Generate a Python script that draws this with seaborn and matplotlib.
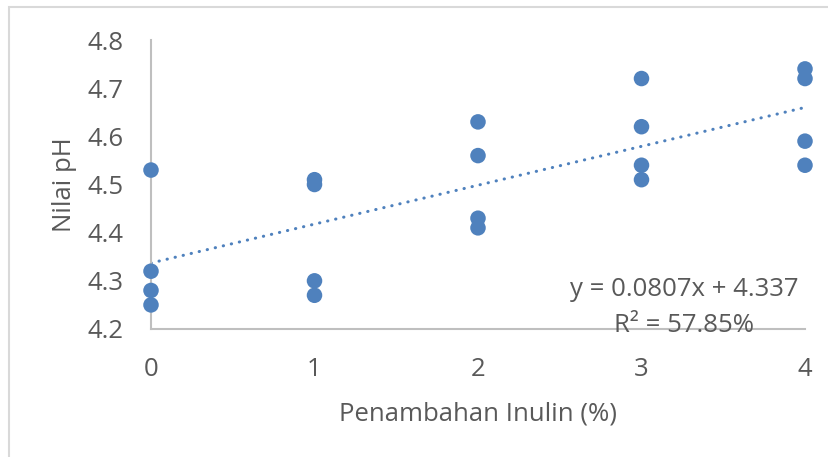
import numpy as np
import pandas as pd
import seaborn as sns
import matplotlib.pyplot as plt
from matplotlib.patches import Rectangle

# Data
inulin = [0, 0, 0, 0, 1, 1, 1, 1, 2, 2, 2, 2, 3, 3, 3, 3, 4, 4, 4, 4]
ph = [4.53, 4.32, 4.28, 4.25,
      4.51, 4.50, 4.30, 4.27,
      4.63, 4.56, 4.43, 4.41,
      4.72, 4.62, 4.54, 4.51,
      4.74, 4.72, 4.59, 4.54]
x_ticks = [0, 1, 2, 3, 4]
y_ticks = [4.2, 4.3, 4.4, 4.5, 4.6, 4.7, 4.8]

df = pd.DataFrame({'Penambahan Inulin (%)': inulin, 'Nilai pH': ph})

sns.set_style('white')
plt.rcParams['font.family'] = ['Open Sans', 'DejaVu Sans']

blue = '#4F81BD'
grey_text = '#595959'
grey_line = '#BFBFBF'

fig = plt.figure(figsize=(8.29, 4.57), dpi=100)
ax = fig.add_axes([151 / 829, 1 - 329 / 457, (805 - 151) / 829, (329 - 40) / 457])

# Trendline (linear fit)
sns.regplot(data=df, x='Penambahan Inulin (%)', y='Nilai pH', scatter=False, ci=None,
            truncate=True, ax=ax,
            line_kws=dict(color=blue, lw=2.2, linestyle=(0, (0.1, 2.6)),
                          dash_capstyle='round'))
sns.scatterplot(data=df, x='Penambahan Inulin (%)', y='Nilai pH', color=blue, s=125,
                edgecolor='none', ax=ax, zorder=3, clip_on=False)

slope, intercept = np.polyfit(inulin, ph, 1)
r2 = np.corrcoef(inulin, ph)[0, 1] ** 2
ax.text(3.96, 4.281, f'y = {slope:.4f}x + {intercept:.3f}', ha='right', va='center',
        fontsize=18.5, color=grey_text)
ax.text(3.26, 4.208, f'R² = {r2 * 100:.2f}%', ha='center', va='center',
        fontsize=18.5, color=grey_text)

ax.set_xlim(0, 4)
ax.set_ylim(4.2, 4.8)
ax.set_xticks(x_ticks)
ax.set_yticks(y_ticks)
ax.set_yticklabels([f'{v:.1f}' for v in y_ticks])
ax.tick_params(axis='both', length=0, labelsize=18.5, labelcolor=grey_text)
ax.tick_params(axis='y', pad=20)
ax.tick_params(axis='x', pad=20)

for side in ['top', 'right']:
    ax.spines[side].set_visible(False)
for side in ['left', 'bottom']:
    ax.spines[side].set_color(grey_line)
    ax.spines[side].set_linewidth(1.5)

ax.set_xlabel('Penambahan Inulin (%)', fontsize=18.5, color=grey_text, labelpad=14)
ax.set_ylabel('Nilai pH', fontsize=18.5, color=grey_text, labelpad=7)

# Chart-area border
fig.patches.append(Rectangle((9 / 829, -0.5), 2, 0.5 + (1 - 7 / 457),
                             transform=fig.transFigure, fill=False,
                             edgecolor='#D9D9D9', lw=1.5, clip_on=False))

fig.savefig('out.png', dpi=100)
